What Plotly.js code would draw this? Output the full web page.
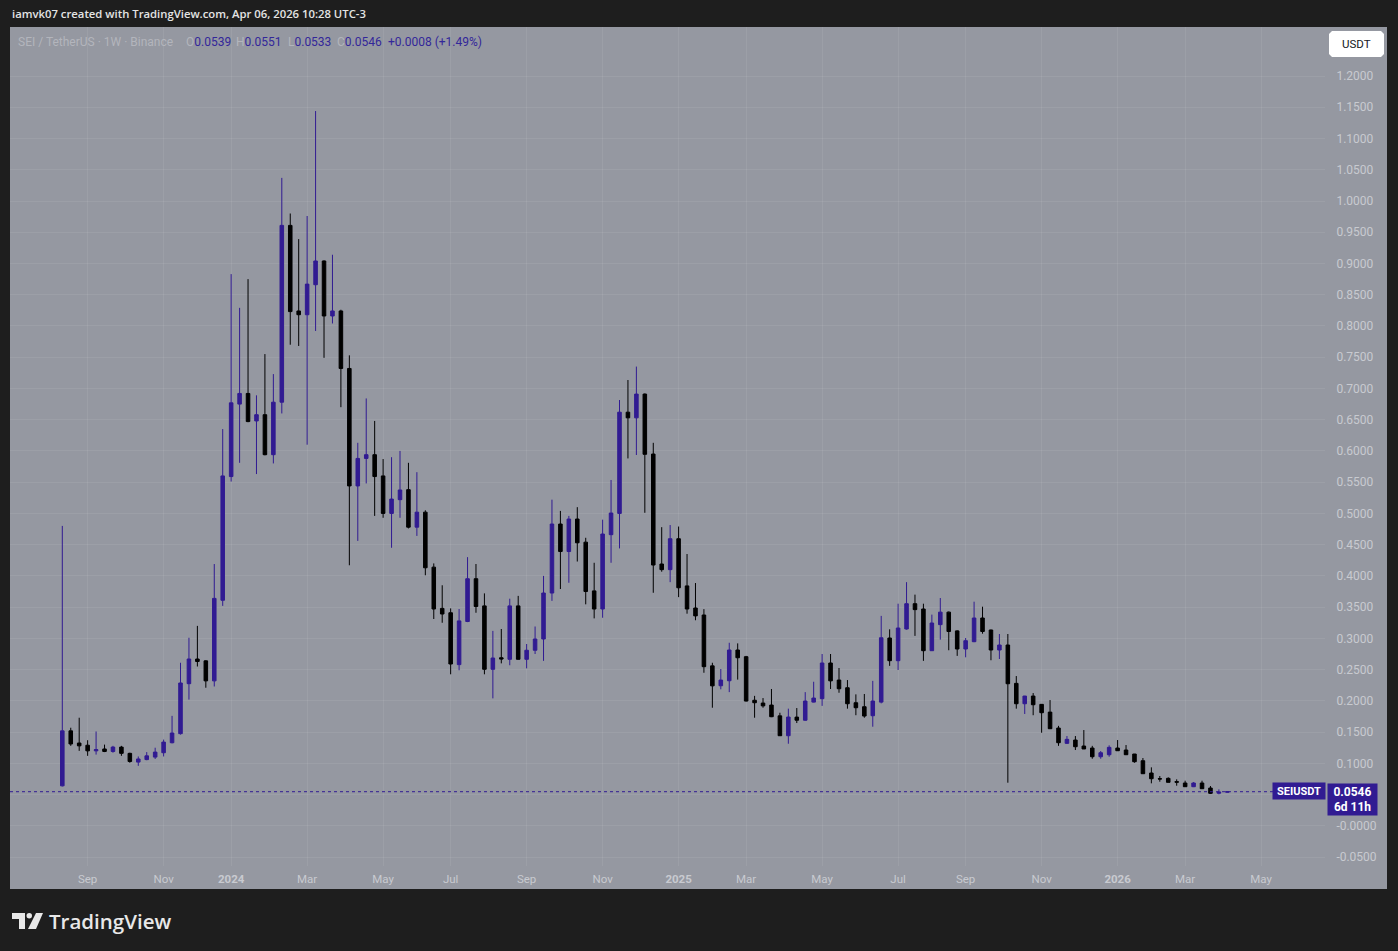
<!DOCTYPE html>
<html>
<head>
<meta charset="utf-8">
<script src="https://cdn.plot.ly/plotly-3.0.1.min.js"></script>
<style>
html,body{margin:0;padding:0;background:#1e1e1e;overflow:hidden;}
#chart{width:1398px;height:951px;}
</style>
</head>
<body>
<div id="chart"></div>
<script>
// ---- DATA: SEI / TetherUS, 1W, Binance (weekly candles from 2023-08-14) ----
const firstWeek = '2023-08-14';
const opens = [
0.064,0.152,0.1325,0.129,0.120,0.123,0.119,0.126,0.116,0.102,
0.106,0.110,0.117,0.133,0.1475,0.2275,0.267,0.264,0.232,0.361,
0.559,0.675,0.692,0.648,0.658,0.594,0.678,0.961,0.824,0.818,
0.866,0.904,0.816,0.824,0.732,0.544,0.588,0.594,0.560,0.500,
0.522,0.538,0.478,0.502,0.414,0.348,0.341,0.258,0.327,0.3955,
0.352,0.2505,0.269,0.2665,0.352,0.2665,0.281,0.299,0.3726,0.483,
0.439,0.491,0.454,0.376,0.347,0.466,0.500,0.662,0.653,0.691,
0.595,0.419,0.410,0.4595,0.384,0.3486,0.3374,0.256,0.2242,0.2322,
0.2814,0.2707,0.201,0.1965,0.1933,0.176,0.1442,0.174,0.169,0.198,
0.2035,0.2606,0.2333,0.221,0.197,0.1906,0.1762,0.198,0.3006,0.2643,
0.315,0.3555,0.347,0.2803,0.322,0.342,0.312,0.283,0.2947,0.3326,
0.3134,0.2814,0.2894,0.228,0.1954,0.2077,0.1944,0.182,0.1565,0.132,
0.1373,0.1277,0.1245,0.1106,0.1138,0.1245,0.1213,0.1149,0.1042,0.0845,
0.0754,0.076,0.0707,0.0685,0.0626,0.0685,0.0605,0.0522,0.0539];
const highs = [
0.480,0.157,0.173,0.137,0.151,0.130,0.128,0.128,0.117,0.111,
0.118,0.125,0.138,0.176,0.261,0.301,0.320,0.265,0.419,0.635,
0.883,0.829,0.875,0.689,0.755,0.723,1.037,0.980,0.939,0.976,
1.144,0.905,0.914,0.826,0.753,0.613,0.684,0.648,0.587,0.590,
0.600,0.581,0.566,0.505,0.420,0.385,0.348,0.347,0.430,0.419,
0.372,0.312,0.315,0.3635,0.368,0.291,0.319,0.400,0.522,0.504,
0.496,0.510,0.461,0.421,0.490,0.5535,0.6815,0.7135,0.735,0.692,
0.613,0.478,0.4814,0.479,0.435,0.3886,0.3468,0.261,0.251,0.293,
0.292,0.272,0.208,0.2045,0.219,0.181,0.1875,0.1885,0.214,0.2306,
0.275,0.275,0.2526,0.2333,0.2104,0.211,0.232,0.336,0.3145,0.3555,
0.390,0.370,0.3555,0.338,0.3646,0.343,0.313,0.3006,0.3587,0.3507,
0.314,0.307,0.307,0.2397,0.208,0.2125,0.195,0.2013,0.160,0.1437,
0.1437,0.1533,0.128,0.1197,0.1288,0.1373,0.1293,0.115,0.1085,0.0936,
0.0797,0.0776,0.0744,0.0722,0.070,0.0722,0.0637,0.0584,0.0551];
const lows = [
0.063,0.128,0.120,0.112,0.114,0.118,0.117,0.112,0.101,0.096,
0.105,0.107,0.111,0.132,0.146,0.202,0.255,0.221,0.223,0.352,
0.551,0.581,0.646,0.563,0.593,0.580,0.660,0.770,0.768,0.610,
0.792,0.749,0.804,0.670,0.417,0.456,0.548,0.496,0.493,0.445,
0.493,0.476,0.464,0.401,0.331,0.325,0.2425,0.249,0.326,0.341,
0.2425,0.204,0.260,0.257,0.266,0.252,0.275,0.264,0.360,0.379,
0.389,0.423,0.3545,0.332,0.333,0.421,0.444,0.588,0.5935,0.501,
0.373,0.4067,0.390,0.366,0.3395,0.329,0.245,0.189,0.2185,0.214,
0.234,0.199,0.173,0.189,0.174,0.144,0.1314,0.1645,0.168,0.1975,
0.192,0.219,0.213,0.1875,0.177,0.173,0.1586,0.196,0.256,0.2494,
0.314,0.304,0.264,0.280,0.298,0.281,0.272,0.2697,0.294,0.3075,
0.265,0.267,0.069,0.1875,0.179,0.177,0.149,0.155,0.128,0.131,
0.1213,0.1229,0.1074,0.1074,0.1106,0.120,0.1135,0.101,0.083,0.068,
0.0706,0.0695,0.0642,0.0624,0.062,0.059,0.0509,0.0504,0.0533];
const closes = [
0.152,0.131,0.128,0.120,0.122,0.119,0.126,0.116,0.103,0.107,
0.112,0.118,0.134,0.1485,0.2286,0.267,0.263,0.232,0.364,0.560,
0.677,0.692,0.647,0.658,0.594,0.678,0.961,0.823,0.818,0.867,
0.904,0.816,0.824,0.732,0.544,0.588,0.594,0.559,0.500,0.523,
0.5375,0.478,0.502,0.413,0.347,0.339,0.259,0.328,0.3955,0.351,
0.2505,0.2686,0.267,0.352,0.2665,0.281,0.299,0.3726,0.483,0.439,
0.491,0.453,0.375,0.347,0.467,0.5006,0.662,0.653,0.691,0.5946,
0.4174,0.410,0.4595,0.381,0.347,0.336,0.2547,0.224,0.2333,0.2814,
0.269,0.1997,0.197,0.192,0.1746,0.1442,0.1741,0.169,0.1997,0.2045,
0.2606,0.232,0.2194,0.1954,0.189,0.1757,0.1997,0.301,0.2643,0.3166,
0.3555,0.346,0.2803,0.3246,0.342,0.311,0.283,0.2963,0.3326,0.311,
0.2814,0.2894,0.2274,0.1954,0.2077,0.1938,0.181,0.1554,0.133,0.1384,
0.1266,0.123,0.1106,0.117,0.1256,0.1202,0.1138,0.1026,0.0834,0.0754,
0.0750,0.0696,0.0699,0.0626,0.0685,0.0594,0.052,0.0540,0.0546];
const lastChange = 0.0008;
const lastChangePct = 1.49;
const remainingText = '6d 11h';

// time-axis labels (first weekly bar of each labelled month)
const xTickDates = ['2023-09-04','2023-11-06','2024-01-01','2024-03-04','2024-05-06','2024-07-01',
  '2024-09-02','2024-11-04','2025-01-06','2025-03-03','2025-05-05','2025-07-07','2025-09-01',
  '2025-11-03','2026-01-05','2026-03-02','2026-05-04'];
const xTickLabels = ['Sep','Nov','<b>2024</b>','Mar','May','Jul','Sep','Nov','<b>2025</b>','Mar',
  'May','Jul','Sep','Nov','<b>2026</b>','Mar','May'];
// price-axis labels (0.0500 is hidden behind the last-price tag in the original)
const yTickVals = [-0.05,0,0.05,0.1,0.15,0.2,0.25,0.3,0.35,0.4,0.45,0.5,0.55,0.6,0.65,0.7,0.75,
  0.8,0.85,0.9,0.95,1.0,1.05,1.1,1.15,1.2];
const yTickText = ['-0.0500','-0.0000','','0.1000','0.1500','0.2000','0.2500','0.3000',
  '0.3500','0.4000','0.4500','0.5000','0.5500','0.6000','0.6500','0.7000','0.7500','0.8000',
  '0.8500','0.9000','0.9500','1.0000','1.0500','1.1000','1.1500','1.2000'];

// ---- build weekly dates ----
const dates = [];
{
  const d0 = new Date(firstWeek + 'T00:00:00Z');
  for (let i = 0; i < closes.length; i++) {
    const d = new Date(d0.getTime() + i * 7 * 86400000);
    dates.push(d.toISOString().slice(0, 10));
  }
}

// ---- geometry helpers ----
const W = 1398, H = 951, ML = 10, MR = 73, MT = 27, MB = 85;
const PW = W - ML - MR, PH = H - MT - MB;
const px = v => (v - ML) / PW;
const py = v => (H - MB - v) / PH;

const UP = '#311b92', DOWN = '#000000';
const BG = '#9598a1', DARK = '#1e1e1e';
const AXTXT = '#c8cad0';
const n = closes.length;
const lastO = opens[n-1], lastH = highs[n-1], lastL = lows[n-1], lastC = closes[n-1];

const trace = {
  type: 'candlestick',
  x: dates, open: opens, high: highs, low: lows, close: closes,
  increasing: {line: {color: UP, width: 1}, fillcolor: UP},
  decreasing: {line: {color: DOWN, width: 1}, fillcolor: DOWN},
  whiskerwidth: 0,
  hoverinfo: 'skip',
  showlegend: false
};

const font = 'Roboto, "Noto Sans", sans-serif';
const annotations = [
  // header
  {xref:'paper', yref:'paper', x: px(10), y: py(14), xanchor:'left', yanchor:'middle', showarrow:false,
   text:'iamvk07 created with TradingView.com, Apr 06, 2026 10:28 UTC-3',
   font:{family:'"Open Sans", "Noto Sans", sans-serif', size:11.3, color:'#e4e4e4', weight:600}},
  // legend line
  {xref:'paper', yref:'paper', x: px(16), y: py(42), xanchor:'left', yanchor:'middle', showarrow:false,
   text:'SEI / TetherUS · 1W · Binance', font:{family:font, size:12, color:'#b3b5bc'}},
  {xref:'paper', yref:'paper', x: px(184), y: py(42), xanchor:'left', yanchor:'middle', showarrow:false,
   text:'O<span style="color:#33279a">' + lastO.toFixed(4) + '</span>', font:{family:font, size:12, color:'#b3b5bc'}},
  {xref:'paper', yref:'paper', x: px(234), y: py(42), xanchor:'left', yanchor:'middle', showarrow:false,
   text:'H<span style="color:#33279a">' + lastH.toFixed(4) + '</span>', font:{family:font, size:12, color:'#b3b5bc'}},
  {xref:'paper', yref:'paper', x: px(286), y: py(42), xanchor:'left', yanchor:'middle', showarrow:false,
   text:'L<span style="color:#33279a">' + lastL.toFixed(4) + '</span>', font:{family:font, size:12, color:'#b3b5bc'}},
  {xref:'paper', yref:'paper', x: px(335), y: py(42), xanchor:'left', yanchor:'middle', showarrow:false,
   text:'C<span style="color:#33279a">' + lastC.toFixed(4) + '</span>', font:{family:font, size:12, color:'#b3b5bc'}},
  {xref:'paper', yref:'paper', x: px(386), y: py(42), xanchor:'left', yanchor:'middle', showarrow:false,
   text:'+' + lastChange.toFixed(4) + ' (+' + lastChangePct.toFixed(2) + '%)', font:{family:font, size:12, color:'#33279a'}},
  // USDT button
  {xref:'paper', yref:'paper', x: px(1356.5), y: py(44), xanchor:'center', yanchor:'middle', showarrow:false,
   text:'USDT', font:{family:font, size:11.5, color:'#131722'}},
  // price labels
  {xref:'paper', yref:'y', x: px(1326), y: lastC, xanchor:'right', yanchor:'middle', yshift:0.5, showarrow:false,
   text:'<b>SEIUSDT</b>', bgcolor: UP, width:48, height:12, borderpad:2,
   font:{family:font, size:11, color:'#ffffff'}},
  {xref:'paper', yref:'y', x: px(1327), y: lastC, xanchor:'left', yanchor:'top', yshift:8.5, showarrow:false,
   text:'<b>' + lastC.toFixed(4) + '</b><br><b>' + remainingText + '</b>', bgcolor: UP, width:45, height:27, borderpad:2,
   align:'center', font:{family:font, size:12, color:'#ffffff'}},
  // TradingView logo text
  {xref:'paper', yref:'paper', x: px(47), y: py(921), xanchor:'left', yanchor:'middle', showarrow:false,
   text:'TradingView', font:{family:'"Open Sans", "Noto Sans", sans-serif', size:20.5, color:'#e8e8e8', weight:600}}
];

function pathFromPx(pts) {
  return 'M' + pts.map(p => px(p[0]) + ',' + py(p[1])).join('L') + 'Z';
}

const shapes = [
  // grey chart panel (covers price and time axis areas too)
  {type:'rect', xref:'paper', yref:'paper', x0: px(10), x1: px(1387), y0: py(27), y1: py(889),
   fillcolor: BG, line:{width:0}, layer:'below'},
  // last price dotted line
  {type:'line', xref:'paper', yref:'y', x0: 0, x1: px(1274), y0: lastC, y1: lastC,
   line:{color: UP, width:1, dash:'dot'}, layer:'above'},
  // USDT button
  {type:'path', xref:'paper', yref:'paper', layer:'above', fillcolor:'#ffffff', line:{width:0},
   path: pathFromPx([[1332,31],[1381,31],[1384,34],[1384,54],[1381,57],[1332,57],[1329,54],[1329,34]])},
  // TradingView logo: T block
  {type:'path', xref:'paper', yref:'paper', layer:'above', fillcolor:'#e8e8e8', line:{width:0},
   path: pathFromPx([[12,913],[25,913],[25,929],[19,929],[19,919],[12,919]])},
  // logo dot
  {type:'circle', xref:'paper', yref:'paper', layer:'above', fillcolor:'#e8e8e8', line:{width:0},
   x0: px(26.5), x1: px(32), y0: py(913), y1: py(918.5)},
  // logo slash
  {type:'path', xref:'paper', yref:'paper', layer:'above', fillcolor:'#e8e8e8', line:{width:0},
   path: pathFromPx([[36,913],[43,913],[36,929],[28,929]])}
];

const layout = {
  width: W, height: H,
  margin: {l: ML, r: MR, t: MT, b: MB, pad: 0},
  paper_bgcolor: DARK,
  plot_bgcolor: BG,
  boxgap: 0.4, boxgroupgap: 0.3,
  showlegend: false,
  dragmode: false,
  xaxis: {
    type: 'date',
    range: ['2023-07-01 15:07', '2026-06-25 23:17'],
    rangeslider: {visible: false},
    tickmode: 'array', tickvals: xTickDates, ticktext: xTickLabels,
    showgrid: true, gridcolor: 'rgba(255,255,255,0.07)', gridwidth: 1,
    zeroline: false, showline: false,
    ticks: 'outside', ticklen: 2, tickcolor: 'rgba(0,0,0,0)',
    tickfont: {family: font, size: 11.5, color: AXTXT},
    fixedrange: true
  },
  yaxis: {
    side: 'right',
    range: [-0.0643, 1.2785],
    tickmode: 'array', tickvals: yTickVals, ticktext: yTickText,
    showgrid: true, gridcolor: 'rgba(255,255,255,0.07)', gridwidth: 1,
    zeroline: false, showline: false,
    ticks: 'outside', ticklen: 8, tickcolor: 'rgba(0,0,0,0)',
    tickfont: {family: font, size: 12, color: AXTXT},
    fixedrange: true
  },
  annotations: annotations,
  shapes: shapes
};

Plotly.newPlot('chart', [trace], layout, {displayModeBar: false, staticPlot: true});
</script>
</body>
</html>
